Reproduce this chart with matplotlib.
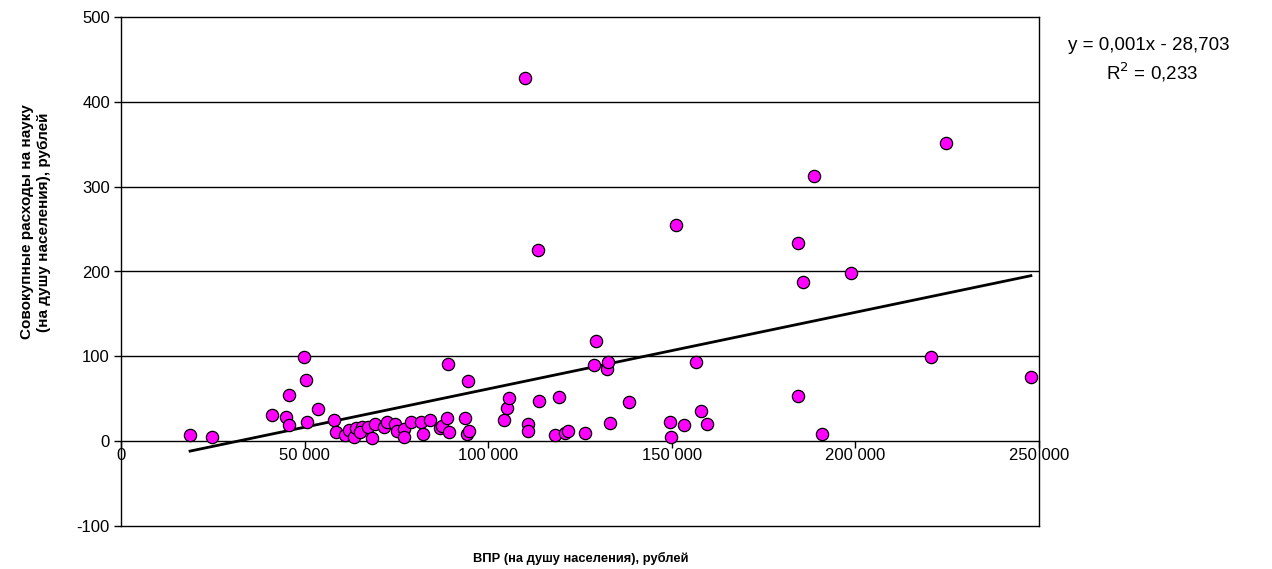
import matplotlib.pyplot as plt
import numpy as np

# ВПР на душу населения (руб.) и расходы на науку на душу населения (руб.)
grp_per_capita = [
    18810, 24890, 50350, 49890, 45800, 41160, 45060, 45800, 50620, 53780,
    58060, 58420, 61060, 62070, 63520, 64060, 65620, 65150, 67140, 68340,
    69240, 71690, 72380, 74690, 75160, 77010, 77150, 78920, 81730, 82190,
    84230, 86740, 87420, 88790, 89220, 88950, 94400, 93580, 94130, 94810,
    104220, 105220, 105770, 110760, 110760, 110130, 113760, 113670, 118310, 119400,
    120840, 121770, 126490, 128750, 129400, 132480, 132570, 133300, 138290, 149470,
    149850, 151020, 153280, 156470, 157840, 159660, 184280, 184360, 185640, 188640,
    191010, 198730, 220530, 224620, 247790,
]
science_per_capita = [
    7.4, 4.7, 72.2, 99.3, 54.2, 30.6, 28.3, 19.2, 23.1, 37.7,
    25.1, 11.3, 7.3, 13.3, 5.4, 15.3, 16.5, 10.6, 16.5, 4.2,
    19.9, 16.5, 22.4, 20.0, 11.4, 14.0, 5.5, 23.0, 22.3, 8.8,
    25.0, 15.6, 17.3, 27.7, 11.3, 91.1, 71.1, 27.7, 8.2, 12.5,
    25.0, 38.9, 50.7, 20.4, 12.5, 428.0, 47.8, 225.4, 7.4, 51.8,
    10.1, 12.5, 10.1, 90.2, 118.5, 85.6, 93.1, 21.9, 46.7, 23.1,
    4.7, 254.8, 18.9, 93.8, 36.1, 20.4, 233.6, 53.4, 188.0, 312.6,
    8.6, 198.8, 99.4, 351.5, 75.8,
]

# линейный тренд
trend_slope = 0.000903
trend_intercept = -28.703
trend_r2 = 0.233

x_ticks = [0, 50000, 100000, 150000, 200000, 250000]
x_tick_labels = ["0", "50 000", "100 000", "150 000", "200 000", "250 000"]
y_ticks = [-100, 0, 100, 200, 300, 400, 500]

plt.rcParams["font.family"] = ["Liberation Sans", "DejaVu Sans"]
plt.rcParams["axes.unicode_minus"] = False

fig = plt.figure(figsize=(12.72, 5.69), dpi=100)
ax = fig.add_axes([121 / 1272, 1 - 526 / 569, (1039 - 121) / 1272, (526 - 17) / 569])

x = np.array(grp_per_capita)
y = np.array(science_per_capita)

for gy in [100, 200, 300, 400]:
    ax.axhline(gy, color="black", lw=1, zorder=1)

xt = np.array([x.min(), x.max()])
ax.plot(xt, trend_slope * xt + trend_intercept, color="black", lw=2, zorder=2)

ax.scatter(x, y, s=78, color="#FF00FF", edgecolor="black", linewidth=0.9, zorder=3)

ax.set_xlim(0, 250000)
ax.set_ylim(-100, 500)
ax.set_xticks(x_ticks)
ax.set_xticklabels(x_tick_labels)
ax.set_yticks(y_ticks)

ax.spines["bottom"].set_position(("data", 0))
for side in ["top", "right", "left", "bottom"]:
    ax.spines[side].set_linewidth(1)
ax.plot([0, 1], [0, 0], transform=ax.transAxes, color="black", lw=1, clip_on=False)

ax.tick_params(axis="y", direction="out", length=5, width=1, labelsize=12, pad=3)
ax.tick_params(axis="x", direction="out", length=5, width=1, labelsize=12, pad=0)

r2_text = "R$^2$ = " + f"{trend_r2:.3f}".replace(".", ",")
fig.text(1149 / 1272, 1 - 45 / 569, "y = 0,001x - 28,703",
         ha="center", va="center", fontsize=13.5)
fig.text(1152 / 1272, 1 - 72 / 569, r2_text,
         ha="center", va="center", fontsize=13.5)

fig.text(0.028, 1 - 222 / 569, "Совокупные расходы на науку\n(на душу населения), рублей",
         rotation=90, ha="center", va="center", fontsize=11, fontweight="bold",
         linespacing=1.25)
fig.text(581 / 1272, 1 - 558 / 569, "ВПР (на душу населения), рублей",
         ha="center", va="center", fontsize=9.3, fontweight="bold")

fig.savefig("out.png", dpi=100)
